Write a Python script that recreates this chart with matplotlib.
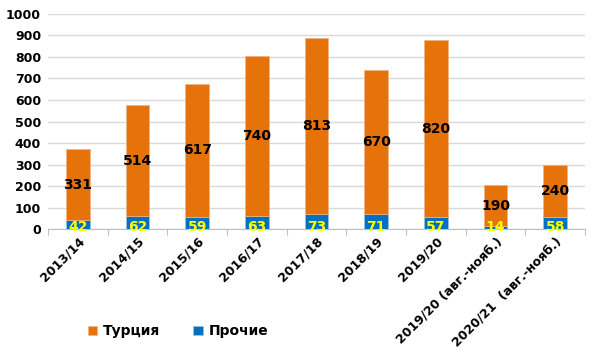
import matplotlib
matplotlib.use('Agg')
import matplotlib.pyplot as plt
import numpy as np

# данные
seasons = ['2013/14', '2014/15', '2015/16', '2016/17', '2017/18', '2018/19',
           '2019/20', '2019/20 (авг.-нояб.)', '2020/21  (авг.-нояб.)']
turkey = [331, 514, 617, 740, 813, 670, 820, 190, 240]
others = [42, 62, 59, 63, 73, 71, 57, 14, 58]

plt.rcParams['font.family'] = ['DejaVu Sans']
plt.rcParams['font.weight'] = 'bold'

fig = plt.figure(figsize=(6, 3.64), dpi=100)
ax = fig.add_axes([0.08, 0.37, 0.895, 0.592])

x = np.arange(len(seasons))
w = 0.4
b1 = ax.bar(x, others, w, color='#0070C0', edgecolor='#9DC3E6', linewidth=0.5, label='Прочие', zorder=3)
b2 = ax.bar(x, turkey, w, bottom=others, color='#E5730A', edgecolor='#F4B183', linewidth=0.5, label='Турция', zorder=3)

for i in range(len(seasons)):
    ax.text(x[i], others[i] + turkey[i] / 2, str(turkey[i]), ha='center', va='center',
            fontsize=10, fontweight='bold', color='black', zorder=4)
    ax.text(x[i], 10, str(others[i]), ha='center', va='center',
            fontsize=10, fontweight='bold', color='#FFFF00', zorder=4)

ax.set_xlim(-0.5, len(seasons) - 0.5)
ax.set_ylim(0, 1000)
ax.set_yticks(range(0, 1001, 100))
ax.yaxis.grid(True, color='#D9D9D9', linewidth=1, zorder=0)
ax.set_axisbelow(True)

ax.set_xticks(np.arange(-0.5, len(seasons), 1), minor=False)
ax.set_xticklabels([])
ax.set_xticks(x, minor=True)
ax.set_xticklabels(seasons, minor=True, rotation=45, ha='right', rotation_mode='anchor',
                   fontsize=9, fontweight='bold')
ax.tick_params(axis='x', which='minor', length=0, pad=4)
ax.tick_params(axis='x', which='major', length=4, color='#BFBFBF')
ax.tick_params(axis='y', length=0, labelsize=9, pad=5)
for lab in ax.get_yticklabels():
    lab.set_fontweight('bold')

for s in ['top', 'right']:
    ax.spines[s].set_visible(False)
ax.spines['left'].set_visible(False)
ax.spines['bottom'].set_color('#BFBFBF')

handles = [b2, b1]
fig.legend(handles, ['Турция', 'Прочие'], loc='center left', bbox_to_anchor=(0.125, 0.09),
           ncol=2, frameon=False, handlelength=0.7, handleheight=0.7,
           columnspacing=2.4, handletextpad=0.4, prop={'weight': 'bold', 'size': 10})

fig.savefig('out.png', dpi=100)
